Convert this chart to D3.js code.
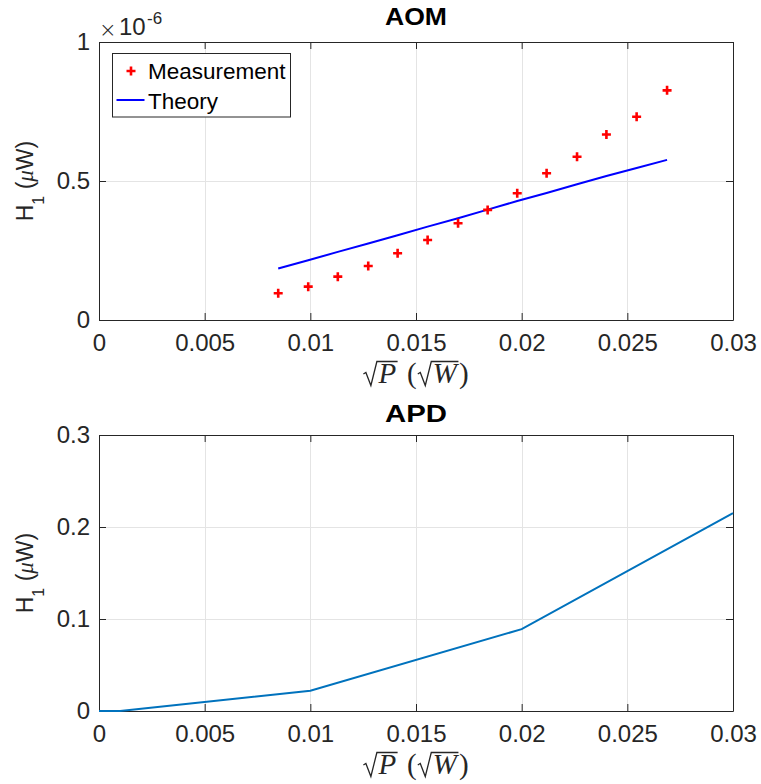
<!DOCTYPE html>
<html>
<head>
<meta charset="utf-8">
<script src="https://cdn.jsdelivr.net/npm/d3@7"></script>
<style>
  html, body { margin: 0; padding: 0; background: #ffffff; }
  svg { display: block; }
</style>
</head>
<body>
<script>
// ---------------- data ----------------
const xTicks = [0, 0.005, 0.01, 0.015, 0.02, 0.025, 0.03];
const xTickLabels = ["0", "0.005", "0.01", "0.015", "0.02", "0.025", "0.03"];

const aomYTicks = [0, 0.5e-6, 1e-6];
const aomYTickLabels = ["0", "0.5", "1"];
const apdYTicks = [0, 0.1, 0.2, 0.3];
const apdYTickLabels = ["0", "0.1", "0.2", "0.3"];

const measX = [0.00848, 0.00990, 0.01130, 0.01274, 0.01413, 0.01555, 0.01699,
               0.01839, 0.01979, 0.02118, 0.02262, 0.02401, 0.02544, 0.02688];
const measY = [0.096e-6, 0.120e-6, 0.156e-6, 0.194e-6, 0.240e-6, 0.288e-6, 0.348e-6,
               0.396e-6, 0.456e-6, 0.528e-6, 0.587e-6, 0.667e-6, 0.731e-6, 0.826e-6];
const theoryX = measX;
const theoryY = [0.185e-6, 0.215e-6, 0.245e-6, 0.275e-6, 0.305e-6, 0.336e-6, 0.366e-6,
                 0.397e-6, 0.428e-6, 0.457e-6, 0.488e-6, 0.518e-6, 0.547e-6, 0.576e-6];

const apdX = [0, 0.001, 0.01, 0.02, 0.03];
const apdY = [0, 0, 0.022, 0.089, 0.215];

const legendLabels = ["Measurement", "Theory"];

// ---------------- setup ----------------
const W = 761, H = 784;
const AX = "#262626", GRID = "#e4e4e4";
const SANS = "'Liberation Sans', Arial, Helvetica, sans-serif";
const SERIF = "'Liberation Serif', 'Times New Roman', serif";
const svg = d3.select("body").append("svg").attr("width", W).attr("height", H);
svg.append("rect").attr("width", W).attr("height", H).attr("fill", "#fff");

const L = 99, R = 733;

function mathXLabel(cx, baseline) {
  const fs = 29;
  const g = svg.append("g");
  let x = 0;
  function txt(s, italic) {
    const t = g.append("text").attr("x", x).attr("y", baseline)
      .attr("font-family", SERIF).attr("font-size", fs)
      .attr("font-style", italic ? "italic" : "normal")
      .attr("fill", AX).text(s);
    const w = t.node().getComputedTextLength();
    x += w;
    return w;
  }
  function rad(letter) {
    const x0 = x;
    x += 15;
    const w = txt(letter, true);
    const top = baseline - 21.5;
    g.append("path")
      .attr("d", `M${x0},${baseline - 9} L${x0 + 2.5},${baseline - 10.5} L${x0 + 7.5},${baseline + 2.5} L${x0 + 13.5},${top} L${x + 1.5},${top}`)
      .attr("fill", "none").attr("stroke", AX).attr("stroke-width", 1.3)
      .attr("stroke-linejoin", "miter");
    x += 2;
  }
  rad("P");
  x += 9;
  txt("(", false);
  x += 1;
  rad("W");
  txt(")", false);
  g.attr("transform", `translate(${cx - x / 2},0)`);
}

function yLabel(cy) {
  const t = svg.append("text")
    .attr("transform", `translate(33,${cy}) rotate(-90)`)
    .attr("text-anchor", "middle")
    .attr("font-family", SANS).attr("font-size", 23).attr("fill", AX);
  t.append("tspan").text("H");
  t.append("tspan").attr("dy", 11).attr("font-size", 16).text("1");
  t.append("tspan").attr("dy", -11).text(" (");
  t.append("tspan").attr("font-family", SERIF).attr("font-style", "italic").text("μ");
  t.append("tspan").text("W)");
}

function panel(cfg) {
  const x = d3.scaleLinear().domain([0, 0.03]).range([L, R]);
  const y = d3.scaleLinear().domain(cfg.yDomain).range([cfg.bottom, cfg.top]);
  const g = svg.append("g");

  // grid
  g.append("g").selectAll("line").data(xTicks).join("line")
    .attr("x1", d => Math.round(x(d)) + 0.5).attr("x2", d => Math.round(x(d)) + 0.5)
    .attr("y1", cfg.top).attr("y2", cfg.bottom)
    .attr("stroke", GRID).attr("stroke-width", 1);
  g.append("g").selectAll("line").data(cfg.yTicks).join("line")
    .attr("y1", d => Math.round(y(d)) + 0.5).attr("y2", d => Math.round(y(d)) + 0.5)
    .attr("x1", L).attr("x2", R)
    .attr("stroke", GRID).attr("stroke-width", 1);

  // axes
  const style = sel => {
    sel.attr("font-family", SANS).attr("font-size", 24);
    sel.selectAll("path.domain").attr("stroke", AX);
    sel.selectAll(".tick line").attr("stroke", AX);
    sel.selectAll(".tick text").attr("fill", AX);
  };
  g.append("g").attr("transform", `translate(0,${cfg.bottom})`)
    .call(d3.axisBottom(x).tickValues(xTicks).tickFormat((d, i) => xTickLabels[i])
      .tickSizeInner(-7).tickSizeOuter(0).tickPadding(14)).call(style);
  g.append("g").attr("transform", `translate(0,${cfg.top})`)
    .call(d3.axisTop(x).tickValues(xTicks).tickFormat("")
      .tickSizeInner(-7).tickSizeOuter(0)).call(style);
  g.append("g").attr("transform", `translate(${L},0)`)
    .call(d3.axisLeft(y).tickValues(cfg.yTicks).tickFormat((d, i) => cfg.yTickLabels[i])
      .tickSizeInner(-7).tickSizeOuter(0).tickPadding(9)).call(style);
  g.append("g").attr("transform", `translate(${R},0)`)
    .call(d3.axisRight(y).tickValues(cfg.yTicks).tickFormat("")
      .tickSizeInner(-7).tickSizeOuter(0)).call(style);

  // title
  svg.append("text").attr("x", (L + R) / 2).attr("y", cfg.titleY)
    .attr("text-anchor", "middle").attr("font-family", SANS)
    .attr("font-weight", "bold").attr("font-size", 23).attr("fill", "#000")
    .attr("textLength", 62).attr("lengthAdjust", "spacingAndGlyphs")
    .text(cfg.title);

  mathXLabel((L + R) / 2, cfg.xLabelY);
  yLabel((cfg.top + cfg.bottom) / 2);
  return { x, y, g };
}

// ---------------- AOM ----------------
const p1 = panel({
  top: 42, bottom: 320, yDomain: [0, 1e-6],
  yTicks: aomYTicks, yTickLabels: aomYTickLabels,
  title: "AOM", titleY: 25, xLabelY: 383
});

// exponent
svg.append("text").attr("x", 99).attr("y", 37).attr("font-family", "'DejaVu Sans', sans-serif")
  .attr("font-size", 21).attr("font-weight", 300).attr("fill", AX).text("×");
svg.append("text").attr("x", 119).attr("y", 35).attr("font-family", SANS)
  .attr("font-size", 24).attr("fill", AX).text("10");
svg.append("text").attr("x", 147).attr("y", 24).attr("font-family", SANS)
  .attr("font-size", 17).attr("fill", AX).text("-6");

const theoryLine = d3.line().x((d, i) => p1.x(theoryX[i])).y(d => p1.y(d));
p1.g.append("path").attr("d", theoryLine(theoryY))
  .attr("fill", "none").attr("stroke", "#0000ff").attr("stroke-width", 2);

function plusPath(cx, cy, s) {
  return `M${cx - s},${cy} H${cx + s} M${cx},${cy - s} V${cy + s}`;
}
p1.g.append("g").selectAll("path").data(measY).join("path")
  .attr("d", (d, i) => plusPath(p1.x(measX[i]), p1.y(d), 4.5))
  .attr("stroke", "#ff0000").attr("stroke-width", 2.6).attr("fill", "none");

// legend
const lg = svg.append("g");
lg.append("rect").attr("x", 112.5).attr("y", 53.5).attr("width", 178).attr("height", 63.5)
  .attr("fill", "#fff").attr("stroke", AX).attr("stroke-width", 1);
lg.append("path").attr("d", plusPath(131, 71, 4.5))
  .attr("stroke", "#ff0000").attr("stroke-width", 2.6).attr("fill", "none");
lg.append("line").attr("x1", 116.5).attr("x2", 144.5).attr("y1", 100).attr("y2", 100)
  .attr("stroke", "#0000ff").attr("stroke-width", 2);
lg.selectAll("text").data(legendLabels).join("text")
  .attr("x", 148).attr("y", (d, i) => 79 + i * 30)
  .attr("font-family", SANS).attr("font-size", 22.5).attr("fill", "#000")
  .text(d => d);

// ---------------- APD ----------------
const p2 = panel({
  top: 435, bottom: 711, yDomain: [0, 0.3],
  yTicks: apdYTicks, yTickLabels: apdYTickLabels,
  title: "APD", titleY: 422, xLabelY: 774
});
const apdLine = d3.line().x((d, i) => p2.x(apdX[i])).y(d => p2.y(d));
p2.g.append("path").attr("d", apdLine(apdY))
  .attr("fill", "none").attr("stroke", "#0072bd").attr("stroke-width", 2);
</script>
</body>
</html>
